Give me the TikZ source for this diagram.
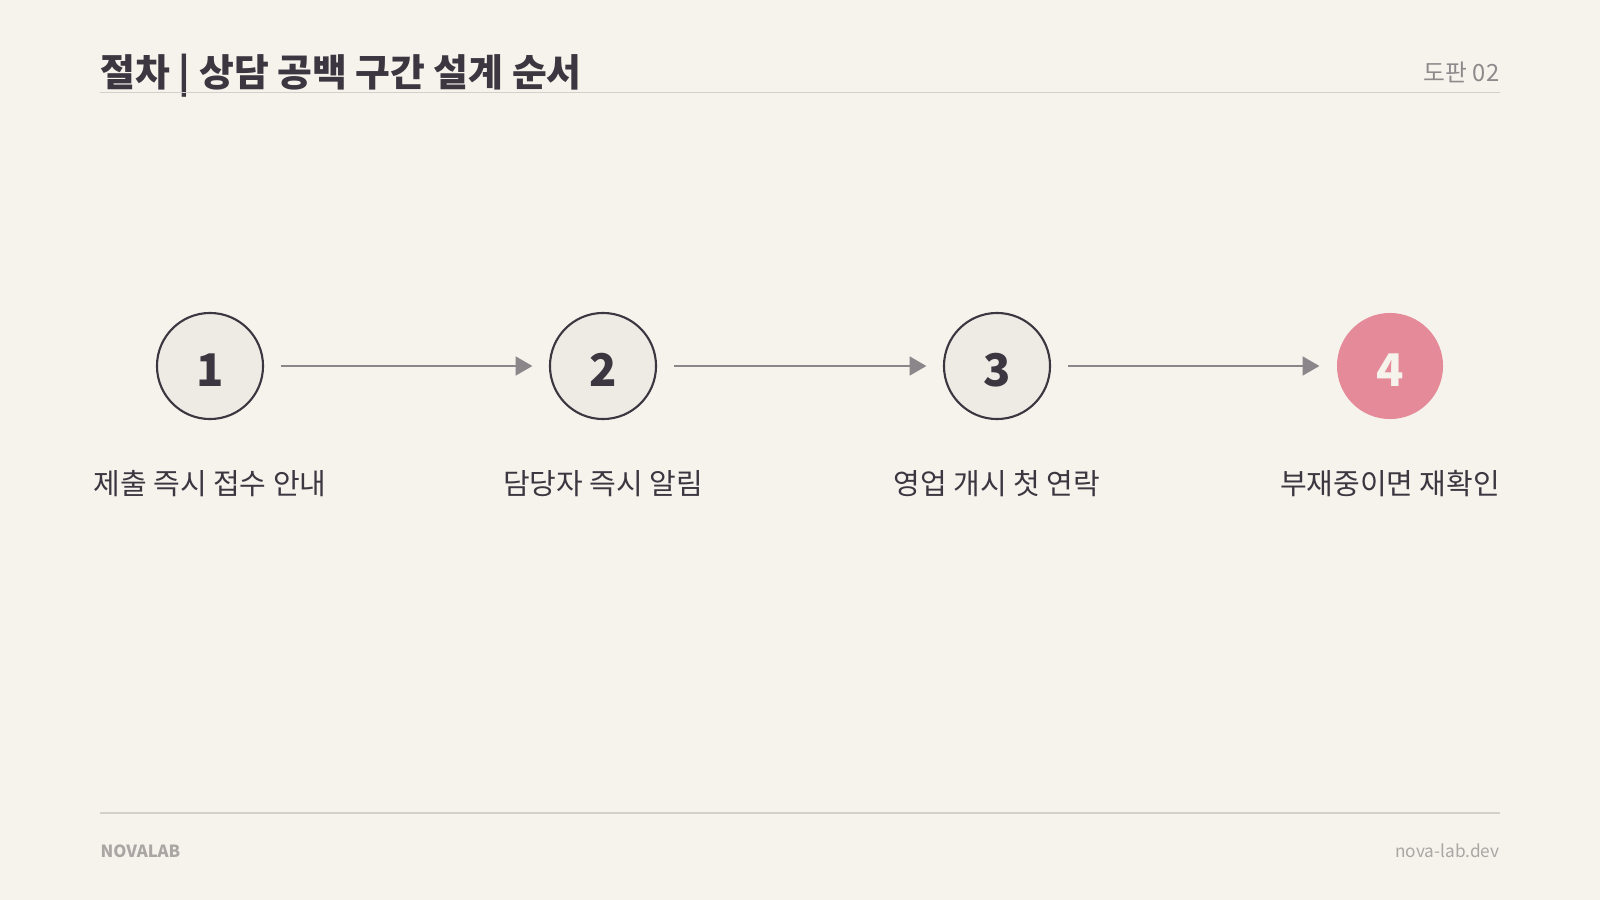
\documentclass[tikz,border=0pt]{standalone}
\usepackage{fontspec}
\setmainfont{Noto Sans CJK KR}
\usetikzlibrary{arrows.meta}
\definecolor{paper}{HTML}{F6F2EC}
\definecolor{ink}{HTML}{3B3640}
\definecolor{disc}{HTML}{EEEAE4}
\definecolor{rose}{HTML}{E48A99}
\definecolor{arrowgray}{HTML}{8A868A}
\definecolor{rulegray}{HTML}{D4CFCA}
\definecolor{softgray}{HTML}{8E8A8C}
\definecolor{footgray}{HTML}{ABA6A4}

\begin{document}
\begin{tikzpicture}[x=0.01cm, y=-0.01cm,
  stepdisc/.style={circle, minimum size=1.06cm, inner sep=0pt, text height=11.5pt, text depth=0pt, fill=disc, draw=ink, line width=0.6pt, text=ink, font=\bfseries\fontsize{12.8}{14}\selectfont},
  steplabel/.style={anchor=base, inner sep=0pt, text=ink, font=\fontsize{8.25}{10}\selectfont},
  flow/.style={-{Triangle[length=4.8pt, width=5.4pt]}, arrowgray, line width=0.6pt, shorten <=4.7pt, shorten >=4.7pt}]
\fill [paper] (0,0) rectangle (1600,900);
\node [anchor=base west, inner sep=0pt, text=ink, font=\bfseries\fontsize{10.75}{13}\selectfont] (title) at (100,87) {절차 | 상담 공백 구간 설계 순서};
\node [anchor=base east, inner sep=0pt, text=softgray, font=\fontsize{6.75}{9}\selectfont] (plate) at (1500,81) {도판 02};
\draw [rulegray, line width=0.5pt] (100,92.5) -- (1500,92.5);
\foreach \i/\x in {1/210,2/603,3/997}
\node [stepdisc] (s\i) at (\x,366) {\i};
\node [stepdisc, fill=rose, draw=none, text=paper] (s4) at (1390,366) {4};
\foreach \a/\b in {1/2,2/3,3/4}
\draw [flow] (s\a) -- (s\b);
\foreach \i/\x/\txt in {1/210/제출 즉시 접수 안내, 2/603/담당자 즉시 알림, 3/997/영업 개시 첫 연락, 4/1390/부재중이면 재확인}
\node [steplabel] (lab\i) at (\x,494) {\txt};
\draw [rulegray, line width=0.5pt] (100,813) -- (1500,813);
\node [anchor=base west, inner sep=0pt, text=footgray, font=\bfseries\fontsize{4.75}{6}\selectfont] (brand) at (100,857) {NOVALAB};
\node [anchor=base east, inner sep=0pt, text=footgray, font=\fontsize{4.9}{6}\selectfont] (site) at (1500,857) {nova-lab.dev};
\end{tikzpicture}
\end{document}
